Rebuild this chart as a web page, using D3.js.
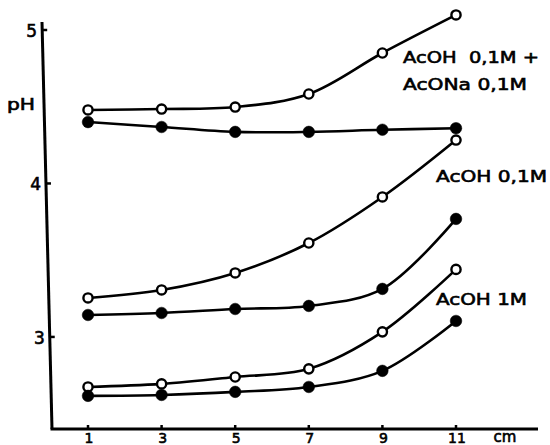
<!DOCTYPE html>
<html><head><meta charset="utf-8">
<script src="https://cdn.jsdelivr.net/npm/d3@7"></script>
<style>html,body{margin:0;padding:0;background:#fff}svg{display:block}</style>
</head><body>
<script>
const distances = [1, 3, 5, 7, 9, 11];
const xTickLabels = ["1", "3", "5", "7", "9", "11"];
const yTicks = [3, 4, 5];
const bufferOpen   = [4.479, 4.485, 4.498, 4.583, 4.850, 5.098];
const bufferFilled = [4.400, 4.368, 4.336, 4.336, 4.350, 4.360];
const acoh01Open   = [3.254, 3.306, 3.417, 3.612, 3.912, 4.283];
const acoh01Filled = [3.143, 3.156, 3.182, 3.202, 3.313, 3.769];
const acoh1Open    = [2.674, 2.694, 2.739, 2.792, 3.033, 3.440];
const acoh1Filled  = [2.616, 2.622, 2.642, 2.674, 2.779, 3.104];
const seriesList = [
  {values: bufferOpen, open: true},
  {values: bufferFilled, open: false},
  {values: acoh01Open, open: true},
  {values: acoh01Filled, open: false},
  {values: acoh1Open, open: true},
  {values: acoh1Filled, open: false}
];
const labels = [
  {lines: ["AcOH  0,1M +", "AcONa 0,1M"]},
  {lines: ["AcOH 0,1M"]},
  {lines: ["AcOH 1M"]}
];

const W = 550, H = 445;
const svg = d3.select("body").append("svg").attr("width", W).attr("height", H);
const x = d3.scaleLinear().domain([1, 11]).range([88, 456]);
const y = d3.scaleLinear().domain([2.4, 5]).range([429, 30]);
const font = "'DejaVu Sans', sans-serif";
const heavy = sel => sel.attr("font-family", font).attr("stroke", "#000").attr("stroke-width", 0.6);

// y axis (slightly slanted like the original)
const yTop = 22, yBot = 429;
const axX = yy => 42 + (yy - yTop) / (yBot - yTop) * 10;
svg.append("line").attr("x1", axX(yTop)).attr("y1", yTop).attr("x2", axX(yBot)).attr("y2", yBot)
  .attr("stroke", "#000").attr("stroke-width", 3);
yTicks.forEach(t => {
  const yy = y(t);
  svg.append("line").attr("x1", axX(yy)).attr("x2", axX(yy) + 5).attr("y1", yy).attr("y2", yy)
    .attr("stroke", "#000").attr("stroke-width", 2.5);
  svg.append("text").attr("x", axX(yy) - 5).attr("y", yy + 7).attr("text-anchor", "end")
    .attr("font-size", 17).call(heavy).text(t);
});
svg.append("text").attr("x", 7).attr("y", 110).attr("font-size", 15)
  .attr("textLength", 28).attr("lengthAdjust", "spacingAndGlyphs").call(heavy).text("pH");

// x axis
svg.append("line").attr("x1", axX(yBot) - 1.5).attr("x2", 538).attr("y1", yBot).attr("y2", yBot)
  .attr("stroke", "#000").attr("stroke-width", 3);
distances.forEach((d, i) => {
  svg.append("line").attr("x1", x(d)).attr("x2", x(d)).attr("y1", yBot).attr("y2", yBot - 4)
    .attr("stroke", "#000").attr("stroke-width", 2.5);
  svg.append("text").attr("x", x(d) + 1).attr("y", 443).attr("text-anchor", "middle")
    .attr("font-size", 14).call(heavy).text(xTickLabels[i]);
});
svg.append("text").attr("x", 505).attr("y", 442).attr("text-anchor", "middle")
  .attr("font-size", 15).call(heavy).text("cm");

// curves
const line = d3.line().x((v, i) => x(distances[i])).y(v => y(v)).curve(d3.curveCatmullRom.alpha(0.5));
seriesList.forEach(s => {
  svg.append("path").attr("d", line(s.values)).attr("fill", "none")
    .attr("stroke", "#000").attr("stroke-width", 2.6);
});
seriesList.forEach(s => {
  svg.selectAll(null).data(s.values).enter().append("circle")
    .attr("cx", (v, i) => x(distances[i])).attr("cy", v => y(v))
    .attr("r", s.open ? 4.6 : 5.8)
    .attr("fill", s.open ? "#fff" : "#000")
    .attr("stroke", "#000").attr("stroke-width", s.open ? 2.4 : 0.5);
});

// labels
const labelPos = [[403, 63, 27], [436, 182, 0], [436, 305, 0]];
const labelLen = [[136, 124], [111], [91]];
labels.forEach((l, k) => {
  l.lines.forEach((t, j) => {
    svg.append("text").attr("x", labelPos[k][0]).attr("y", labelPos[k][1] + j * labelPos[k][2])
      .attr("font-size", 16).call(heavy)
      .attr("textLength", labelLen[k][j]).attr("lengthAdjust", "spacingAndGlyphs")
      .style("white-space", "pre").text(t);
  });
});
</script>
</body></html>
